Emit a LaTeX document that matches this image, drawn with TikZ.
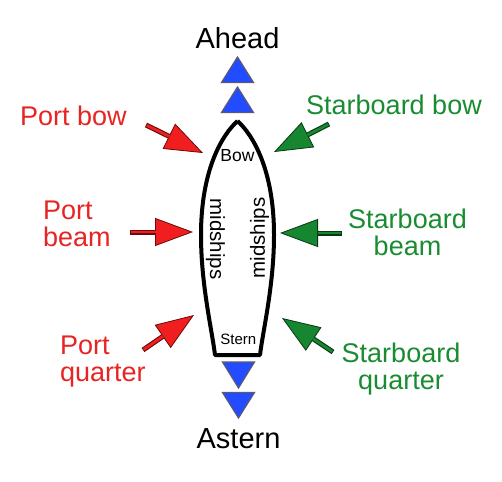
\documentclass[tikz,border=0pt]{standalone}
\usepackage{fontspec}
\setmainfont{Liberation Sans}
\usetikzlibrary{arrows.meta}
\definecolor{rfill}{RGB}{240,30,30}
\definecolor{rdark}{RGB}{110,10,10}
\definecolor{rtext}{RGB}{232,35,35}
\definecolor{gfill}{RGB}{22,135,48}
\definecolor{gdark}{RGB}{10,55,20}
\definecolor{gtext}{RGB}{25,140,50}
\definecolor{bfill}{RGB}{35,75,255}
\definecolor{bline}{RGB}{90,90,120}
\tikzset{
  outerred/.style={draw=rdark, line width=5pt, line cap=butt,
    -{Triangle[length=38pt,width=28pt,line width=0.8pt,fill=rfill]}},
  innerred/.style={draw=rfill, line width=2.8pt, line cap=butt, shorten >=37.5pt, shorten <=0.9pt},
  outergreen/.style={draw=gdark, line width=5pt, line cap=butt,
    -{Triangle[length=38pt,width=28pt,line width=0.8pt,fill=gfill]}},
  innergreen/.style={draw=gfill, line width=2.8pt, line cap=butt, shorten >=37.5pt, shorten <=0.9pt},
  bluetri/.style={fill=bfill, draw=bline, line width=1.2pt, line join=miter},
  hull/.style={draw=black, line width=4pt, line join=round},
  sidelabel/.style={font=\fontsize{27}{27}\selectfont, inner sep=0pt},
  endlabel/.style={font=\fontsize{29}{29}\selectfont, inner sep=0pt},
}
\begin{document}
\begin{tikzpicture}[x=1pt,y=-1pt]
\useasboundingbox[fill=white] (0,0) rectangle (502,481);
% hull
\draw[hull] (237.5,121) .. controls (222,135) and (201,170) .. (201,235)
  .. controls (201,285) and (212,330) .. (215,355) -- (260,355)
  .. controls (263,330) and (274,285) .. (274,235)
  .. controls (274,170) and (253,135) .. (237.5,121);
% blue triangles
\draw[bluetri] (221.5,82.5) -- (237.5,57) -- (253.5,82.5) -- cycle;
\draw[bluetri] (221.5,112.5) -- (237.5,87) -- (253.5,112.5) -- cycle;
\draw[bluetri] (222.5,362) -- (238.5,388) -- (254.5,362) -- cycle;
\draw[bluetri] (222.5,392.5) -- (238.5,418) -- (254.5,392.5) -- cycle;
% arrow coordinates
\coordinate (pbS) at (146,125);   \coordinate (pbT) at (203,153);
\coordinate (pmS) at (130,232);   \coordinate (pmT) at (193,232);
\coordinate (pqS) at (143,350);   \coordinate (pqT) at (194,315);
\coordinate (sbS) at (329,124);   \coordinate (sbT) at (274,152);
\coordinate (smS) at (342,233);   \coordinate (smT) at (280,233);
\coordinate (sqS) at (333,352);   \coordinate (sqT) at (282,318);
\foreach \a in {pb,pm,pq}{
  \draw[outerred] (\a S) -- (\a T);
  \draw[innerred] (\a S) -- (\a T);
}
\foreach \a in {sb,sm,sq}{
  \draw[outergreen] (\a S) -- (\a T);
  \draw[innergreen] (\a S) -- (\a T);
}
% labels
\node[endlabel, anchor=base] (ahead) at (237.5,49) {Ahead};
\node[endlabel, anchor=base] (astern) at (238.5,448) {Astern};
\node[sidelabel, text=rtext, anchor=base] (portbow) at (73.5,125) {Port bow};
\node[sidelabel, text=rtext, anchor=north west, align=left] (portbeam) at (43,200.5) {Port\\beam};
\node[sidelabel, text=rtext, anchor=north west, align=left] (portquarter) at (60,335.5) {Port\\quarter};
\node[sidelabel, text=gtext, anchor=base] (stbdbow) at (394,115) {Starboard bow};
\node[sidelabel, text=gtext, anchor=north, align=center] (stbdbeam) at (407.5,208.8) {Starboard\\beam};
\node[sidelabel, text=gtext, anchor=north, align=center] (stbdquarter) at (401,343.2) {Starboard\\quarter};
\node[inner sep=0pt, font=\fontsize{17.5}{17.5}\selectfont, anchor=base] (bow) at (237.5,161.7) {Bow};
\node[inner sep=0pt, font=\fontsize{15}{15}\selectfont, anchor=base] (stern) at (238.3,344) {Stern};
\node[inner sep=0pt, font=\fontsize{20.5}{20.5}\selectfont, rotate=-90] (mid1) at (215.5,239) {midships};
\node[inner sep=0pt, font=\fontsize{20.5}{20.5}\selectfont, rotate=90] (mid2) at (259.5,238) {midships};
\end{tikzpicture}
\end{document}
